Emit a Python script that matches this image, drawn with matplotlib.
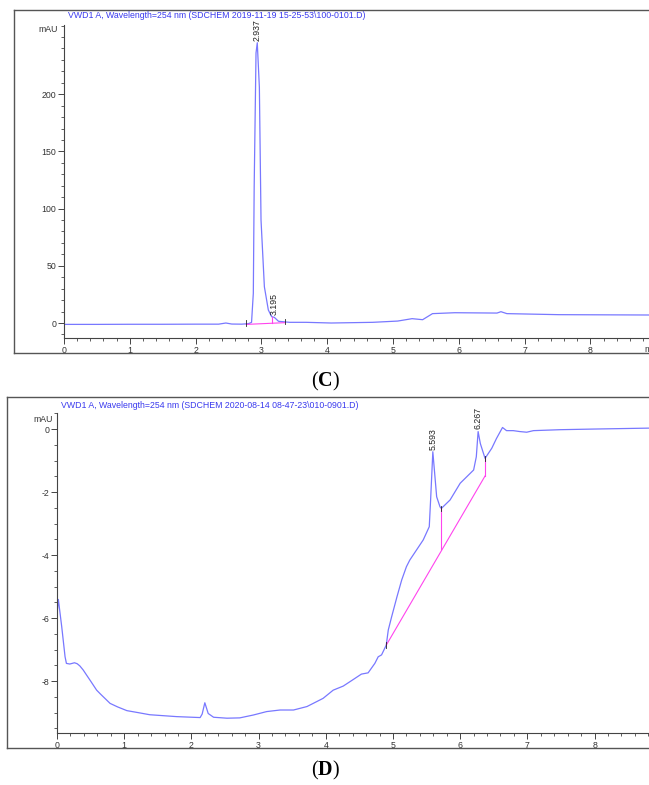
import matplotlib
matplotlib.use("Agg")
import matplotlib.pyplot as plt
from matplotlib.ticker import MultipleLocator
from matplotlib.lines import Line2D

plt.rcParams['font.family'] = ['Liberation Sans', 'DejaVu Sans']
plt.rcParams['axes.unicode_minus'] = False
plt.rcParams['mathtext.fontset'] = 'custom'
plt.rcParams['mathtext.rm'] = 'Liberation Serif'
plt.rcParams['mathtext.bf'] = 'Liberation Serif:bold'

# ---------------- Panel C data ----------------
c_title = r"VWD1 A, Wavelength=254 nm (SDCHEM 2019-11-19 15-25-53\100-0101.D)"
c_time = [0.0, 0.5, 1.0, 1.5, 2.0, 2.35, 2.46, 2.55, 2.7, 2.8, 2.85, 2.877, 2.89,
          2.918, 2.937, 2.969, 2.994, 3.045, 3.105, 3.156, 3.195, 3.26, 3.43,
          3.68, 4.06, 4.69, 5.07, 5.29, 5.45, 5.6, 5.94, 6.58, 6.64, 6.73,
          7.52, 8.89]
c_mau = [-1.2, -1.2, -1.1, -1.1, -1.0, -1.0, 0.0, -0.9, -1.0, -0.6, 0.5, 26, 119,
         236, 245, 206, 90, 31.7, 11.4, 5.5, 5.0, 1.5, 0.6,
         0.6, 0.0, 0.6, 1.7, 3.8, 2.9, 8.2, 9.0, 8.7, 9.9, 8.2,
         7.3, 7.0]
c_peaks = [2.937, 3.195]
c_peak_vals = [245, 5.0]
c_base_t = [2.77, 3.36]
c_base_v = [-1.2, 0.3]
c_drop_t = 3.16
c_drop_v = [5.3, -0.3]
c_yticks = [0, 50, 100, 150, 200]
c_xticks = [0, 1, 2, 3, 4, 5, 6, 7, 8]

# ---------------- Panel D data ----------------
d_title = r"VWD1 A, Wavelength=254 nm (SDCHEM 2020-08-14 08-47-23\010-0901.D)"
d_time = [0.0, 0.02, 0.07, 0.12, 0.14, 0.19, 0.26, 0.30, 0.34, 0.39, 0.44, 0.50, 0.59,
          0.65, 0.79, 0.90, 1.04, 1.20, 1.38, 1.78, 2.13, 2.16, 2.20, 2.25, 2.33, 2.53,
          2.72, 2.92, 3.12, 3.32, 3.52, 3.72, 3.96, 4.11, 4.26, 4.41, 4.53, 4.63, 4.73,
          4.78, 4.83, 4.90, 4.93, 4.98, 5.06, 5.13, 5.20, 5.25, 5.45, 5.54, 5.56, 5.593,
          5.65, 5.70, 5.72, 5.85, 6.0, 6.10, 6.20, 6.24, 6.267, 6.30, 6.37, 6.47, 6.54,
          6.63, 6.69, 6.79, 6.89, 6.99, 7.09, 7.49, 7.98, 8.81]
d_mau = [-5.9, -5.41, -6.27, -7.23, -7.44, -7.46, -7.42, -7.45, -7.52, -7.65, -7.81, -8.0, -8.29,
         -8.42, -8.71, -8.82, -8.94, -9.0, -9.07, -9.13, -9.16, -9.05, -8.69, -9.03, -9.15, -9.18,
         -9.17, -9.08, -8.97, -8.92, -8.92, -8.81, -8.55, -8.29, -8.16, -7.95, -7.78, -7.74, -7.44,
         -7.23, -7.17, -6.86, -6.38, -5.96, -5.32, -4.79, -4.37, -4.16, -3.52, -3.1, -2.25, -0.72,
         -2.15, -2.47, -2.52, -2.25, -1.72, -1.51, -1.30, -0.88, -0.08, -0.46, -0.93, -0.61, -0.30,
         0.05, -0.05, -0.05, -0.08, -0.1, -0.05, -0.02, 0.0, 0.03]
d_peaks = [5.593, 6.267]
d_peak_vals = [-0.72, -0.08]
d_base_t = [4.90, 6.37]
d_base_v = [-6.86, -1.49]
d_drop_t = [5.72, 6.37]
d_drop_top = [-2.52, -0.93]
d_drop_bot = [-3.82, -1.49]
d_yticks = [0, -2, -4, -6, -8]
d_xticks = [0, 1, 2, 3, 4, 5, 6, 7, 8]

W, H = 649, 785
fig = plt.figure(figsize=(W / 100, H / 100), dpi=100)

def rect(x0, y0, x1, y1):
    return [x0 / W, 1 - y1 / H, (x1 - x0) / W, (y1 - y0) / H]

line_col = '#7878ff'
title_col = '#3a3aee'
tick_col = '#333333'
base_col = '#ff44ee'
FS = 6.3

def frame(x0, y0, y1):
    kw = dict(color='#555555', lw=1.0, transform=fig.transFigure)
    fig.add_artist(Line2D([x0 / W, x0 / W], [1 - y0 / H, 1 - y1 / H], **kw))
    fig.add_artist(Line2D([x0 / W, 1.01], [1 - y0 / H, 1 - y0 / H], **kw))
    fig.add_artist(Line2D([x0 / W, 1.01], [1 - y1 / H, 1 - y1 / H], **kw))

def style(ax, ymin, xticks, yticks):
    for s in ['top', 'right']:
        ax.spines[s].set_visible(False)
    for s in ['left', 'bottom']:
        ax.spines[s].set_color('#444444')
        ax.spines[s].set_linewidth(0.8)
    ax.set_xticks(xticks)
    ax.set_yticks(yticks)
    ax.xaxis.set_minor_locator(MultipleLocator(0.2))
    ax.yaxis.set_minor_locator(MultipleLocator(ymin))
    ax.tick_params(axis='both', which='major', direction='out', length=4, width=0.7,
                   colors='#444444', labelsize=FS, labelcolor=tick_col, pad=1.5)
    ax.tick_params(axis='both', which='minor', direction='out', length=2.2, width=0.6,
                   colors='#444444')
    ax.patch.set_alpha(0)

# ---------- Panel C ----------
frame(14, 10, 353)
axc = fig.add_axes(rect(64, 25, 649, 338))
axc.plot(c_time, c_mau, color=line_col, lw=0.9)
axc.plot(c_base_t, c_base_v, color=base_col, lw=0.8)
axc.plot([c_drop_t, c_drop_t], c_drop_v, color=base_col, lw=0.8)
for t, v in zip(c_base_t, c_base_v):
    axc.plot([t, t], [v - 1.5, v + 3.5], color='#222222', lw=0.6)
axc.set_xlim(0, 8.89)
axc.set_ylim(-13.1, 260.5)
style(axc, 10, c_xticks, c_yticks)
for t, v in zip(c_peaks, c_peak_vals):
    axc.annotate(f"{t:.3f}", (t, v), xytext=(0, 1.5), textcoords='offset points',
                 rotation=90, ha='center', va='bottom', fontsize=FS, color='#222222')
fig.text(68 / W, 1 - 16 / H, c_title, color=title_col, fontsize=FS,
         ha='left', va='center')
fig.text(38 / W, 1 - 30 / H, "mAU", color=tick_col, fontsize=FS, ha='left', va='center')
fig.text(644 / W, 1 - 349 / H, "min", color=tick_col, fontsize=FS, ha='left', va='center')
fig.text(325 / W, 1 - 381 / H, r"($\mathbf{C}$)", fontfamily='Liberation Serif',
         fontsize=14.5, ha='center', va='center')

# ---------- Panel D ----------
frame(7, 397, 748)
axd = fig.add_axes(rect(57, 413, 649, 733))
axd.plot(d_time, d_mau, color=line_col, lw=0.9)
axd.plot(d_base_t, d_base_v, color=base_col, lw=0.8)
for t, a, b in zip(d_drop_t, d_drop_top, d_drop_bot):
    axd.plot([t, t], [a, b], color=base_col, lw=0.8)
    axd.plot([t, t], [a + 0.08, a - 0.08], color='#222222', lw=0.6)
axd.plot([d_base_t[0], d_base_t[0]], [d_base_v[0] + 0.1, d_base_v[0] - 0.1], color='#222222', lw=0.6)
axd.set_xlim(0, 8.81)
axd.set_ylim(-9.65, 0.51)
style(axd, 0.5, d_xticks, d_yticks)
for t, v in zip(d_peaks, d_peak_vals):
    axd.annotate(f"{t:.3f}", (t, v), xytext=(0, 1.5), textcoords='offset points',
                 rotation=90, ha='center', va='bottom', fontsize=FS, color='#222222')
fig.text(61 / W, 1 - 405 / H, d_title, color=title_col, fontsize=FS,
         ha='left', va='center')
fig.text(33 / W, 1 - 419 / H, "mAU", color=tick_col, fontsize=FS, ha='left', va='center')
fig.text(325 / W, 1 - 770 / H, r"($\mathbf{D}$)", fontfamily='Liberation Serif',
         fontsize=14.5, ha='center', va='center')

fig.savefig("out.png", dpi=100)
